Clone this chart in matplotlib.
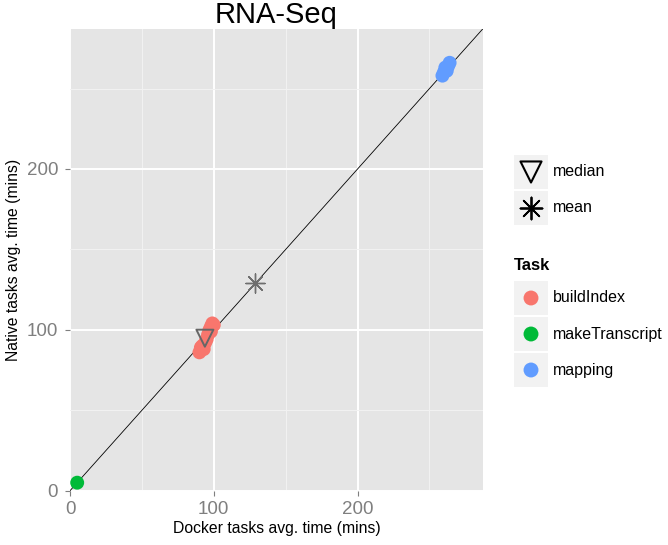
import numpy as np
import matplotlib
matplotlib.use("Agg")
import matplotlib.pyplot as plt
from matplotlib.patches import Rectangle

plt.rcParams['font.family'] = ['Liberation Sans', 'DejaVu Sans']

## Data (mins)
tasks = ["buildIndex", "makeTranscript", "mapping"]
colors = ["#F8766D", "#00BA38", "#619CFF"]

build_x = [90, 91, 92, 93, 94, 95, 96, 97, 98, 98, 99, 100]
build_y = [86, 89, 90, 88, 92, 94, 97, 100, 102, 99, 104, 103]
trans_x = [5]
trans_y = [5]
map_x = [259, 260, 261, 262, 263, 264, 262, 261]
map_y = [258, 260, 261, 263, 264, 266, 261, 263]

median_xy = (93.8, 94.8)
mean_xy = (128.5, 129)

ticks = [0, 100, 200]
minor_ticks = [50, 150, 250]
lim = (0, 287)

fig = plt.figure(figsize=(6.68, 5.45), dpi=100)
ax = fig.add_axes([0.1048, 0.0996, 0.6178, 0.8472])
ax.set_facecolor("#E5E5E5")
for s in ax.spines.values():
    s.set_visible(False)

ax.set_xlim(lim)
ax.set_ylim(lim)
ax.set_xticks(ticks)
ax.set_yticks(ticks)
ax.set_xticks(minor_ticks, minor=True)
ax.set_yticks(minor_ticks, minor=True)
ax.grid(which="major", color="white", linewidth=1.4)
ax.grid(which="minor", color="#F2F2F2", linewidth=0.7)
ax.set_axisbelow(True)
ax.tick_params(which="major", direction="out", length=3.6, width=0.8,
               color="#7F7F7F", labelcolor="#7F7F7F", labelsize=13.5, pad=4)
ax.tick_params(axis="y", pad=5)
ax.tick_params(which="minor", length=0)

ax.axline((0, 0), slope=1, color="black", linewidth=0.6, zorder=2)

series = [(build_x, build_y), (trans_x, trans_y), (map_x, map_y)]
for (xs, ys), c in zip(series, colors):
    ax.scatter(xs, ys, s=100, color=c, edgecolors="none", zorder=3)

ax.scatter(*median_xy, marker="v", s=150, facecolors="none",
           edgecolors="#666666", linewidths=1.4, zorder=4)
ax.scatter(*mean_xy, marker=(8, 2, 0), s=190, color="#6E6E6E",
           linewidths=1.0, zorder=4)

ax.set_title("RNA-Seq", fontsize=21, pad=3)
ax.set_xlabel("Docker tasks avg. time (mins)", fontsize=11.3, labelpad=2)
ax.set_ylabel("Native tasks avg. time (mins)", fontsize=11.3, labelpad=4)

## legends, drawn in pixel space
lax = fig.add_axes([0, 0, 1, 1])
lax.set_xlim(0, 668)
lax.set_ylim(545, 0)
lax.axis("off")

kx, kw = 514, 34
shape_keys = [(155, "median", "v"), (191, "mean", (8, 2, 0))]
for y0, lab, m in shape_keys:
    lax.add_patch(Rectangle((kx, y0), kw, 34, color="#F2F2F2", lw=0))
    if m == "v":
        lax.scatter(kx + kw / 2, y0 + 17, marker=m, s=230, facecolors="none",
                    edgecolors="black", linewidths=1.5)
    else:
        lax.scatter(kx + kw / 2, y0 + 17, marker=m, s=250, color="black",
                    linewidths=1.3)
    lax.text(553, y0 + 17, lab, fontsize=11.5, va="center", ha="left")

lax.text(514, 265, "Task", fontsize=12, fontweight="bold", va="center", ha="left")
task_y = [281, 317, 353]
for y0, lab, c in zip(task_y, tasks, colors):
    lax.add_patch(Rectangle((kx, y0), kw, 34, color="#F2F2F2", lw=0))
    lax.scatter(kx + kw / 2, y0 + 17, s=115, color=c, edgecolors="none")
    lax.text(553, y0 + 17, lab, fontsize=11.5, va="center", ha="left")

fig.savefig("out.png", dpi=100)
